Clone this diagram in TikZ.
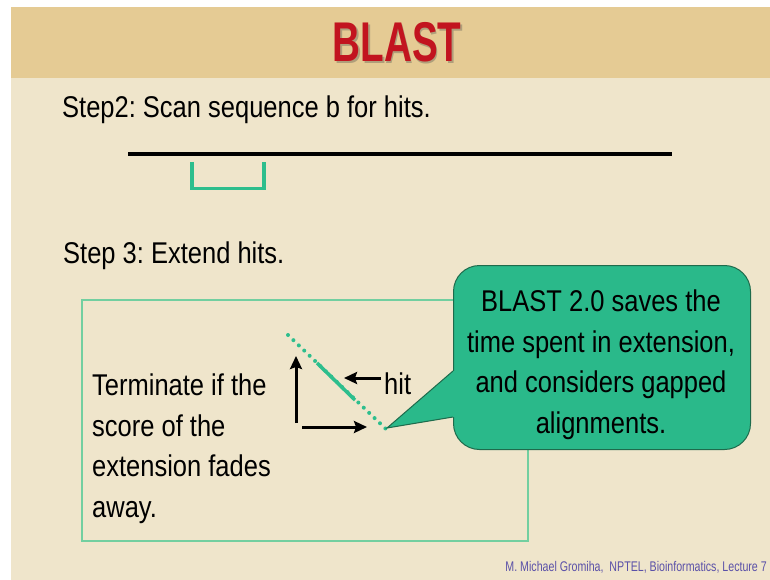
\documentclass[tikz,border=0pt]{standalone}
\usepackage{fontspec}
\setmainfont[FakeStretch=0.85]{Liberation Sans}
\newfontfamily\titlefont[FakeStretch=0.69]{Liberation Sans}
\newfontfamily\footfont[FakeStretch=0.76]{Liberation Sans}
\usetikzlibrary{arrows.meta}
\frenchspacing
\definecolor{bodybg}{HTML}{EFE5CB}
\definecolor{headbg}{HTML}{E5CB94}
\definecolor{titlered}{HTML}{C2141F}
\definecolor{seqgreen}{HTML}{2DBE8D}
\definecolor{boxgreen}{HTML}{72CFA0}
\definecolor{callfill}{HTML}{2AB98A}
\definecolor{callline}{HTML}{1E6B4C}
\definecolor{footblue}{HTML}{5A50A8}
\tikzset{
  txt/.style={inner sep=0pt, anchor=base west, font=\fontsize{30}{40.5}\selectfont},
  blackarrow/.style={line width=3pt, -{Stealth[length=13pt,width=12pt,inset=2pt]}},
  greenline/.style={seqgreen, line width=3.5pt},
}
\begin{document}
\begin{tikzpicture}[x=1pt,y=-1pt]
\useasboundingbox (0,0) rectangle (770,580);
\fill[white] (0,0) rectangle (770,580);
\fill[bodybg] (11,7) rectangle (770,580);
\fill[headbg] (11,7) rectangle (770,78);
% title
\node[inner sep=0pt, anchor=base, text=black!70, opacity=0.35, font=\titlefont\bfseries\fontsize{56}{60}\selectfont] (titleshadow) at (398.5,63.5) {BLAST};
\node[inner sep=0pt, anchor=base, text=titlered, font=\titlefont\bfseries\fontsize{56}{60}\selectfont] (title) at (397,62) {BLAST};
% step 2
\node[txt] (step2) at (62,118) {Step2: Scan sequence b for hits.};
\coordinate (s1) at (128,154);
\coordinate (s2) at (672,154);
\draw[line width=4pt] (s1) -- (s2);
\coordinate (b1) at (192,162);
\coordinate (b2) at (192,188.5);
\coordinate (b3) at (264,188.5);
\coordinate (b4) at (264,162);
\draw[greenline] (b1) -- (b2) -- (b3) -- (b4);
% step 3
\node[txt] (step3) at (63,263) {Step 3: Extend hits.};
\draw[boxgreen, line width=1.5pt] (82,300) rectangle (528,541);
\node[txt, align=left] (term) at (92,517) {Terminate if the\\score of the\\extension fades\\away.};
% axes
\coordinate (o1) at (296,423);
\coordinate (o2) at (296,356);
\coordinate (h1) at (302,427);
\coordinate (h2) at (367,427);
\draw[blackarrow] (o1) -- (o2);
\draw[blackarrow] (h1) -- (h2);
% diagonal
\coordinate (d1) at (288,335);
\coordinate (d2) at (387,430);
\coordinate (e1) at (317,363);
\coordinate (e2) at (355,400);
\draw[seqgreen, line width=4pt, line cap=round, dash pattern=on 0pt off 7.5pt] (d1) -- (d2);
\draw[greenline] (e1) -- (e2);
% hit
\node[txt] (hit) at (384,394) {hit};
\coordinate (ha) at (381,378);
\coordinate (hb) at (344,378);
\draw[blackarrow] (ha) -- (hb);
% callout
\coordinate (tip) at (387,428);
\coordinate (pa) at (453,371);
\coordinate (pb) at (453,417);
\node[draw=callline, fill=callfill, line width=1pt, rounded corners=26pt, minimum width=297pt, minimum height=184pt, anchor=north west] (call) at (453,265) {};
\fill[callfill] (tip) -- (pa) -- ([xshift=4pt]pa) -- ([xshift=4pt]pb) -- (pb) -- cycle;
\draw[callline, line width=1pt] (pa) -- (tip) -- (pb);
\node[inner sep=0pt, anchor=base, align=center, font=\fontsize{30}{40.5}\selectfont] (calltext) at (601,433) {BLAST 2.0 saves the\\time spent in extension,\\and considers gapped\\alignments.};
% footer
\node[inner sep=0pt, anchor=base east, text=footblue, font=\footfont\fontsize{14}{16}\selectfont] (foot) at (767,571) {M. Michael Gromiha,\ \ NPTEL, Bioinformatics, Lecture 7};
\end{tikzpicture}
\end{document}
